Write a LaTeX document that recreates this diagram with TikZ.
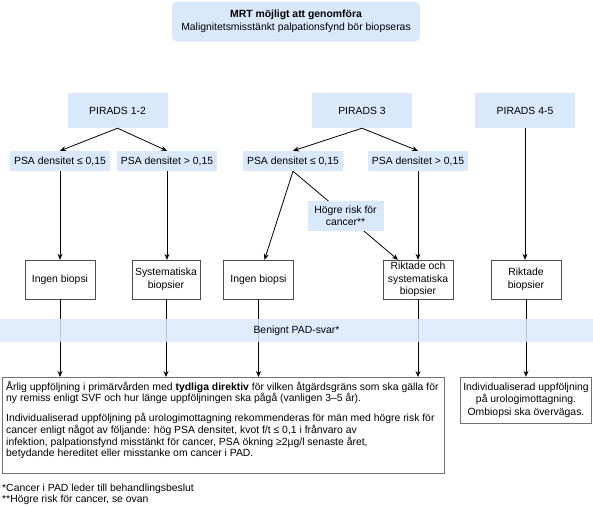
\documentclass[tikz,border=0pt]{standalone}
\usepackage{fontspec}
\setmainfont{Liberation Sans}
\usetikzlibrary{arrows.meta,positioning}
\definecolor{padblue}{HTML}{DAE8FC}
\definecolor{boxline}{HTML}{4D4D4D}

\begin{document}
\begin{tikzpicture}[x=1pt,y=-1pt,
	  every node/.style={align=center,inner sep=0pt,font=\fontsize{10.4}{12.4}\selectfont},
	  topbox/.style={fill=padblue,rounded corners=5pt,minimum width=248pt,minimum height=40pt},
	  pirbox/.style={fill=padblue,minimum width=100pt,minimum height=35pt},
	  psabox/.style={fill=padblue,minimum width=100pt,minimum height=20pt},
	  riskbox/.style={fill=padblue,minimum width=76pt,minimum height=30pt},
	  biopsy/.style={draw=boxline,fill=white,minimum width=70pt,minimum height=39pt},
	  outcome/.style={draw=boxline!80,fill=white},
	  to/.style={->,>={Stealth[length=6pt,width=5pt]},draw=black,line width=0.8pt}]

	  \useasboundingbox (0,0) rectangle (593,507);

	  % Top and PIRADS level
	  \node[topbox] (mrt) at (296,21.5) {\textbf{MRT möjligt att genomföra}\\Malignitetsmisstänkt palpationsfynd bör biopseras};
	  \node[pirbox] (pir12) at (117.5,110.5) {PIRADS 1-2};
	  \node[pirbox] (pir3) at (362,110.5) {PIRADS 3};
	  \node[pirbox] (pir45) at (525,110.5) {PIRADS 4-5};

	  % PSA density
	  \node[psabox] (psa1) at (60,161) {PSA densitet ≤ 0,15};
	  \node[psabox] (psa2) at (167,161) {PSA densitet > 0,15};
	  \node[psabox] (psa3) at (293,161) {PSA densitet ≤ 0,15};
	  \node[psabox] (psa4) at (418,161) {PSA densitet > 0,15};

	  % Biopsy decisions
	  \node[biopsy] (ingen1) at (60,279.5) {Ingen biopsi};
	  \node[biopsy,minimum width=68pt] (sys) at (166,279.5) {Systematiska\\biopsier};
	  \node[biopsy] (ingen2) at (258.5,279.5) {Ingen biopsi};
	  \node[biopsy] (rikoch) at (418,279.5) {Riktade och\\systematiska\\biopsier};
	  \node[biopsy] (rik) at (526,279.5) {Riktade\\biopsier};

	  % Follow-up
	  \node[outcome,anchor=north west,inner sep=4pt] (uppf) at (2,377) {\parbox[c][88pt][t]{434pt}{\raggedright\fontsize{10.4}{11.6}\selectfont
	    Årlig uppföljning i primärvården med \textbf{tydliga direktiv} för vilken åtgärdsgräns som ska gälla för\\
	    ny remiss enligt SVF och hur länge uppföljningen ska pågå (vanligen 3–5 år).\\[8.5pt]
	    Individualiserad uppföljning på urologimottagning rekommenderas för män med högre risk för\\
	    cancer enligt något av följande: hög PSA densitet, kvot f/t ≤ 0,1 i frånvaro av\\
	    infektion, palpationsfynd misstänkt för cancer, PSA ökning ≥2µg/l senaste året,\\
	    betydande hereditet eller misstanke om cancer i PAD.}};
	  \node[outcome,minimum width=131pt,minimum height=46pt] (indiv) at (526,400) {Individualiserad uppföljning\\på urologimottagning.\\Ombiopsi ska övervägas.};

	  \node[anchor=north west,align=left,font=\fontsize{10.4}{11}\selectfont] (fotnot) at (2,484) {*Cancer i PAD leder till behandlingsbeslut\\**Högre risk för cancer, se ovan};

	  \draw[to] (pir12.south) -- (psa1.north);
	  \draw[to] (pir12.south) -- (psa2.north);
	  \draw[to] (pir3.south) -- (psa3.north);
	  \draw[to] (pir3.south) -- (psa4.north);

	  \draw[to] (psa1) -- (ingen1);
	  \draw[to] (psa2.south) -- (psa2.south |- sys.north);
	  \draw[to] (psa3.south) -- ([xshift=6pt]ingen2.north);
	  \draw[to] (psa3.south) -- node[riskbox] (risk) {Högre risk för\\cancer**} ([xshift=-20pt]rikoch.north);
	  \draw[to] (psa4) -- (rikoch);
	  \draw[to] (pir45.south) -- (pir45.south |- rik.north);

	  \draw[to] (ingen1) -- (ingen1 |- uppf.north);
	  \draw[to] (sys) -- (sys |- uppf.north);
	  \draw[to] (ingen2) -- (ingen2 |- uppf.north);
	  \draw[to] (rikoch) -- (rikoch |- uppf.north);
	  \draw[to] (rik) -- (indiv);

	  % Benign band over the connectors
	  \node[fill=padblue,fill opacity=0.85,text opacity=1,minimum width=593pt,minimum height=23pt] (benign) at (296.5,330.5) {Benignt PAD-svar*};

\end{tikzpicture}
\end{document}
